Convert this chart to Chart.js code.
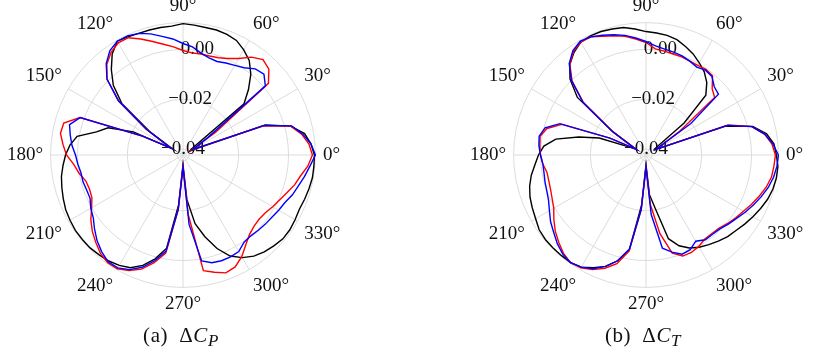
<!DOCTYPE html>
<html>
<head>
<meta charset="utf-8">
<script src="https://cdn.jsdelivr.net/npm/chart.js@4.4.1/dist/chart.umd.min.js"></script>
<style>
  body { margin: 0; background: #fff; width: 814px; height: 353px; overflow: hidden; position: relative; font-family: "Liberation Serif", serif; }
  canvas { position: absolute; }
  .cap { position: absolute; top: 325px; width: 200px; text-align: center; font-size: 21px; line-height: 20px; letter-spacing: 0.6px; color: #111; white-space: nowrap; }
  .cap sub { font-size: 17px; vertical-align: -4px; line-height: 0; }
</style>
</head>
<body>
<canvas id="cp" width="352" height="352"></canvas>
<canvas id="ct" width="352" height="352"></canvas>
<div class="cap" style="left:81px">(a)&ensp;&Delta;<i>C</i><sub><i>P</i></sub></div>
<div class="cap" style="left:543px">(b)&ensp;&Delta;<i>C</i><sub><i>T</i></sub></div>
<script>
// angle of each sample, degrees counter-clockwise from the right
const thetaDeg = [0, 5, 10, 15, 20, 25, 30, 35, 40, 45, 50, 55, 60, 65, 70, 75, 80, 85, 90, 95,
  100, 105, 110, 115, 120, 125, 130, 135, 140, 145, 150, 155, 160, 165, 170, 175, 180, 185, 190, 195,
  200, 205, 210, 215, 220, 225, 230, 235, 240, 245, 250, 255, 260, 265, 270, 275, 280, 285, 290, 295,
  300, 305, 310, 315, 320, 325, 330, 335, 340, 345, 350, 355];

// (a) delta C_P
const cpBlack = [0.0104, 0.0092, 0.0072, 0.0024, -0.0072, -0.0364, -0.0392, -0.0384, -0.0104, -0.0052,
  0.0000, 0.0040, 0.0064, 0.0084, 0.0092, 0.0096, 0.0096, 0.0100, 0.0104, 0.0096,
  0.0096, 0.0096, 0.0096, 0.0100, 0.0104, 0.0072, 0.0024, -0.0028, -0.0104, -0.0264,
  -0.0376, -0.0204, -0.0104, -0.0064, 0.0008, 0.0032, 0.0048, 0.0060, 0.0072, 0.0080,
  0.0088, 0.0096, 0.0100, 0.0104, 0.0104, 0.0104, 0.0100, 0.0096, 0.0088, 0.0076,
  0.0048, 0.0008, -0.0044, -0.0224, -0.0384, -0.0244, -0.0144, -0.0084, -0.0024, 0.0024,
  0.0052, 0.0072, 0.0084, 0.0092, 0.0100, 0.0100, 0.0096, 0.0092, 0.0096, 0.0100,
  0.0104, 0.0104];
const cpRed = [0.0096, 0.0084, 0.0060, 0.0024, -0.0084, -0.0344, -0.0384, -0.0264, 0.0024, 0.0064,
  0.0076, 0.0056, 0.0024, 0.0004, -0.0008, -0.0012, -0.0012, -0.0012, -0.0004, 0.0012,
  0.0028, 0.0048, 0.0072, 0.0096, 0.0096, 0.0080, 0.0052, 0.0008, -0.0088, -0.0244,
  -0.0364, -0.0244, 0.0016, 0.0072, 0.0076, 0.0060, 0.0044, 0.0016, 0.0000, -0.0020,
  -0.0024, -0.0020, 0.0000, 0.0028, 0.0052, 0.0072, 0.0092, 0.0104, 0.0104, 0.0088,
  0.0064, 0.0024, -0.0024, -0.0204, -0.0376, -0.0184, 0.0048, 0.0064, 0.0080, 0.0072,
  0.0048, 0.0016, -0.0008, -0.0020, -0.0024, -0.0020, -0.0008, 0.0004, 0.0020, 0.0040,
  0.0056, 0.0080];
const cpBlue = [0.0108, 0.0092, 0.0064, 0.0028, -0.0076, -0.0344, -0.0376, -0.0304, 0.0008, 0.0036,
  0.0028, 0.0004, -0.0008, -0.0016, -0.0024, -0.0020, -0.0008, 0.0012, 0.0024, 0.0044,
  0.0060, 0.0080, 0.0096, 0.0104, 0.0104, 0.0088, 0.0056, 0.0008, -0.0084, -0.0244,
  -0.0364, -0.0244, 0.0016, 0.0048, 0.0036, 0.0024, 0.0008, 0.0000, -0.0008, -0.0008,
  -0.0012, -0.0012, 0.0004, 0.0016, 0.0040, 0.0064, 0.0084, 0.0100, 0.0100, 0.0084,
  0.0056, 0.0016, -0.0032, -0.0204, -0.0376, -0.0144, 0.0008, 0.0024, 0.0028, 0.0028,
  0.0024, 0.0004, 0.0000, 0.0004, 0.0008, 0.0012, 0.0020, 0.0028, 0.0044, 0.0056,
  0.0072, 0.0088];

// (b) delta C_T
const ctBlack = [0.0100, 0.0092, 0.0068, 0.0020, -0.0084, -0.0344, -0.0384, -0.0384, -0.0224, -0.0084,
  -0.0044, -0.0016, 0.0004, 0.0024, 0.0040, 0.0056, 0.0064, 0.0068, 0.0072, 0.0084,
  0.0096, 0.0100, 0.0104, 0.0104, 0.0100, 0.0080, 0.0052, 0.0008, -0.0064, -0.0264,
  -0.0376, -0.0344, -0.0224, -0.0144, -0.0056, -0.0012, 0.0008, 0.0024, 0.0044, 0.0060,
  0.0072, 0.0080, 0.0088, 0.0100, 0.0104, 0.0104, 0.0104, 0.0104, 0.0096, 0.0076,
  0.0052, 0.0016, -0.0036, -0.0224, -0.0384, -0.0264, -0.0204, -0.0076, -0.0036, -0.0012,
  0.0004, 0.0016, 0.0028, 0.0040, 0.0048, 0.0060, 0.0072, 0.0084, 0.0096, 0.0104,
  0.0108, 0.0108];
const ctRed = [0.0096, 0.0084, 0.0060, 0.0016, -0.0072, -0.0344, -0.0376, -0.0264, -0.0064, -0.0048,
  -0.0008, -0.0004, -0.0008, -0.0008, -0.0004, -0.0004, 0.0000, 0.0004, 0.0028, 0.0044,
  0.0060, 0.0072, 0.0084, 0.0100, 0.0100, 0.0084, 0.0052, -0.0004, -0.0096, -0.0264,
  -0.0376, -0.0264, -0.0064, -0.0012, 0.0008, 0.0004, 0.0000, -0.0008, -0.0020, -0.0020,
  -0.0016, -0.0008, 0.0004, 0.0028, 0.0052, 0.0072, 0.0092, 0.0104, 0.0100, 0.0084,
  0.0060, 0.0028, -0.0032, -0.0204, -0.0376, -0.0224, -0.0104, -0.0016, 0.0008, 0.0008,
  0.0000, -0.0012, -0.0012, -0.0008, 0.0004, 0.0016, 0.0028, 0.0044, 0.0060, 0.0076,
  0.0088, 0.0092];
const ctBlue = [0.0108, 0.0088, 0.0060, 0.0016, -0.0076, -0.0344, -0.0376, -0.0204, -0.0044, -0.0036,
  -0.0012, -0.0008, -0.0016, -0.0008, 0.0000, 0.0004, 0.0008, 0.0016, 0.0032, 0.0048,
  0.0064, 0.0076, 0.0088, 0.0100, 0.0104, 0.0088, 0.0056, 0.0000, -0.0092, -0.0256,
  -0.0376, -0.0264, -0.0056, -0.0004, 0.0012, 0.0008, 0.0000, -0.0008, -0.0008, -0.0004,
  0.0000, 0.0008, 0.0024, 0.0044, 0.0060, 0.0080, 0.0096, 0.0104, 0.0096, 0.0080,
  0.0052, 0.0016, -0.0040, -0.0204, -0.0376, -0.0184, -0.0044, -0.0020, 0.0000, -0.0004,
  -0.0024, -0.0008, -0.0008, -0.0004, 0.0008, 0.0020, 0.0036, 0.0052, 0.0068, 0.0084,
  0.0096, 0.0104];

const rMin = -0.0424;
const rMax = 0.0108;
const rTicks = [-0.04, -0.02, 0.00, rMax];
// leading figure spaces nudge the centred labels a little to the right, like the original
const rTickLabels = ['\u22120.04', '\u2007 \u22120.02', '\u2007\u2007\u20070.00', ''];
const angleTicks = [0, 30, 60, 90, 120, 150, 180, 210, 240, 270, 300, 330];

const serif = '"Liberation Serif", "Times New Roman", serif';
const gridColor = '#dcdcdc';
const targetR = 132.5;

// chart.js radar runs clockwise from the top, so walk the angles backwards from 90
const order = thetaDeg.map((t, i) => thetaDeg.indexOf((90 - 5 * i + 360) % 360));
const labels = order.map(k => angleTicks.includes(thetaDeg[k]) ? thetaDeg[k] + '\u00b0' : '');

function makePolar(id, black, red, blue) {
  const pick = arr => order.map(k => arr[k]);
  return new Chart(document.getElementById(id), {
    type: 'radar',
    data: {
      labels: labels,
      datasets: [
        { data: pick(blue), borderColor: '#0000ff' },
        { data: pick(red), borderColor: '#ff0000' },
        { data: pick(black), borderColor: '#000000' },
      ]
    },
    options: {
      responsive: false,
      animation: false,
      layout: { padding: 0 },
      elements: {
        line: { borderWidth: 1.4, tension: 0, fill: false },
        point: { radius: 0, hitRadius: 0 }
      },
      plugins: { legend: { display: false }, tooltip: { enabled: false } },
      scales: {
        r: {
          min: rMin,
          max: rMax,
          startAngle: 0,
          afterBuildTicks: s => { s.ticks = rTicks.map(v => ({ value: v })); },
          ticks: {
            showLabelBackdrop: false,
            backdropPadding: 0,
            color: '#111',
            font: { family: serif, size: 19, lineHeight: 1 },
            callback: (v, i) => rTickLabels[i]
          },
          grid: { circular: true, color: gridColor, lineWidth: 1 },
          angleLines: {
            color: gridColor,
            lineWidth: ctx => ctx.index % 6 === 0 ? 1 : 0
          },
          pointLabels: {
            padding: -2,
            color: '#111',
            font: { family: serif, size: 19, lineHeight: 1 }
          }
        }
      }
    }
  });
}

// size the canvas so the polar circle has the wanted radius, then put its centre in place
function place(chart, cx, cy) {
  let s = chart.scales.r;
  const d = Math.round(2 * (s.drawingArea - targetR));
  if (d !== 0) {
    chart.resize(chart.width - d, chart.height - d);
    s = chart.scales.r;
  }
  chart.canvas.style.left = (cx - s.xCenter) + 'px';
  chart.canvas.style.top = (cy - s.yCenter) + 'px';
}

const chartP = makePolar('cp', cpBlack, cpRed, cpBlue);
const chartT = makePolar('ct', ctBlack, ctRed, ctBlue);
place(chartP, 183, 155);
place(chartT, 646, 155);
</script>
</body>
</html>
